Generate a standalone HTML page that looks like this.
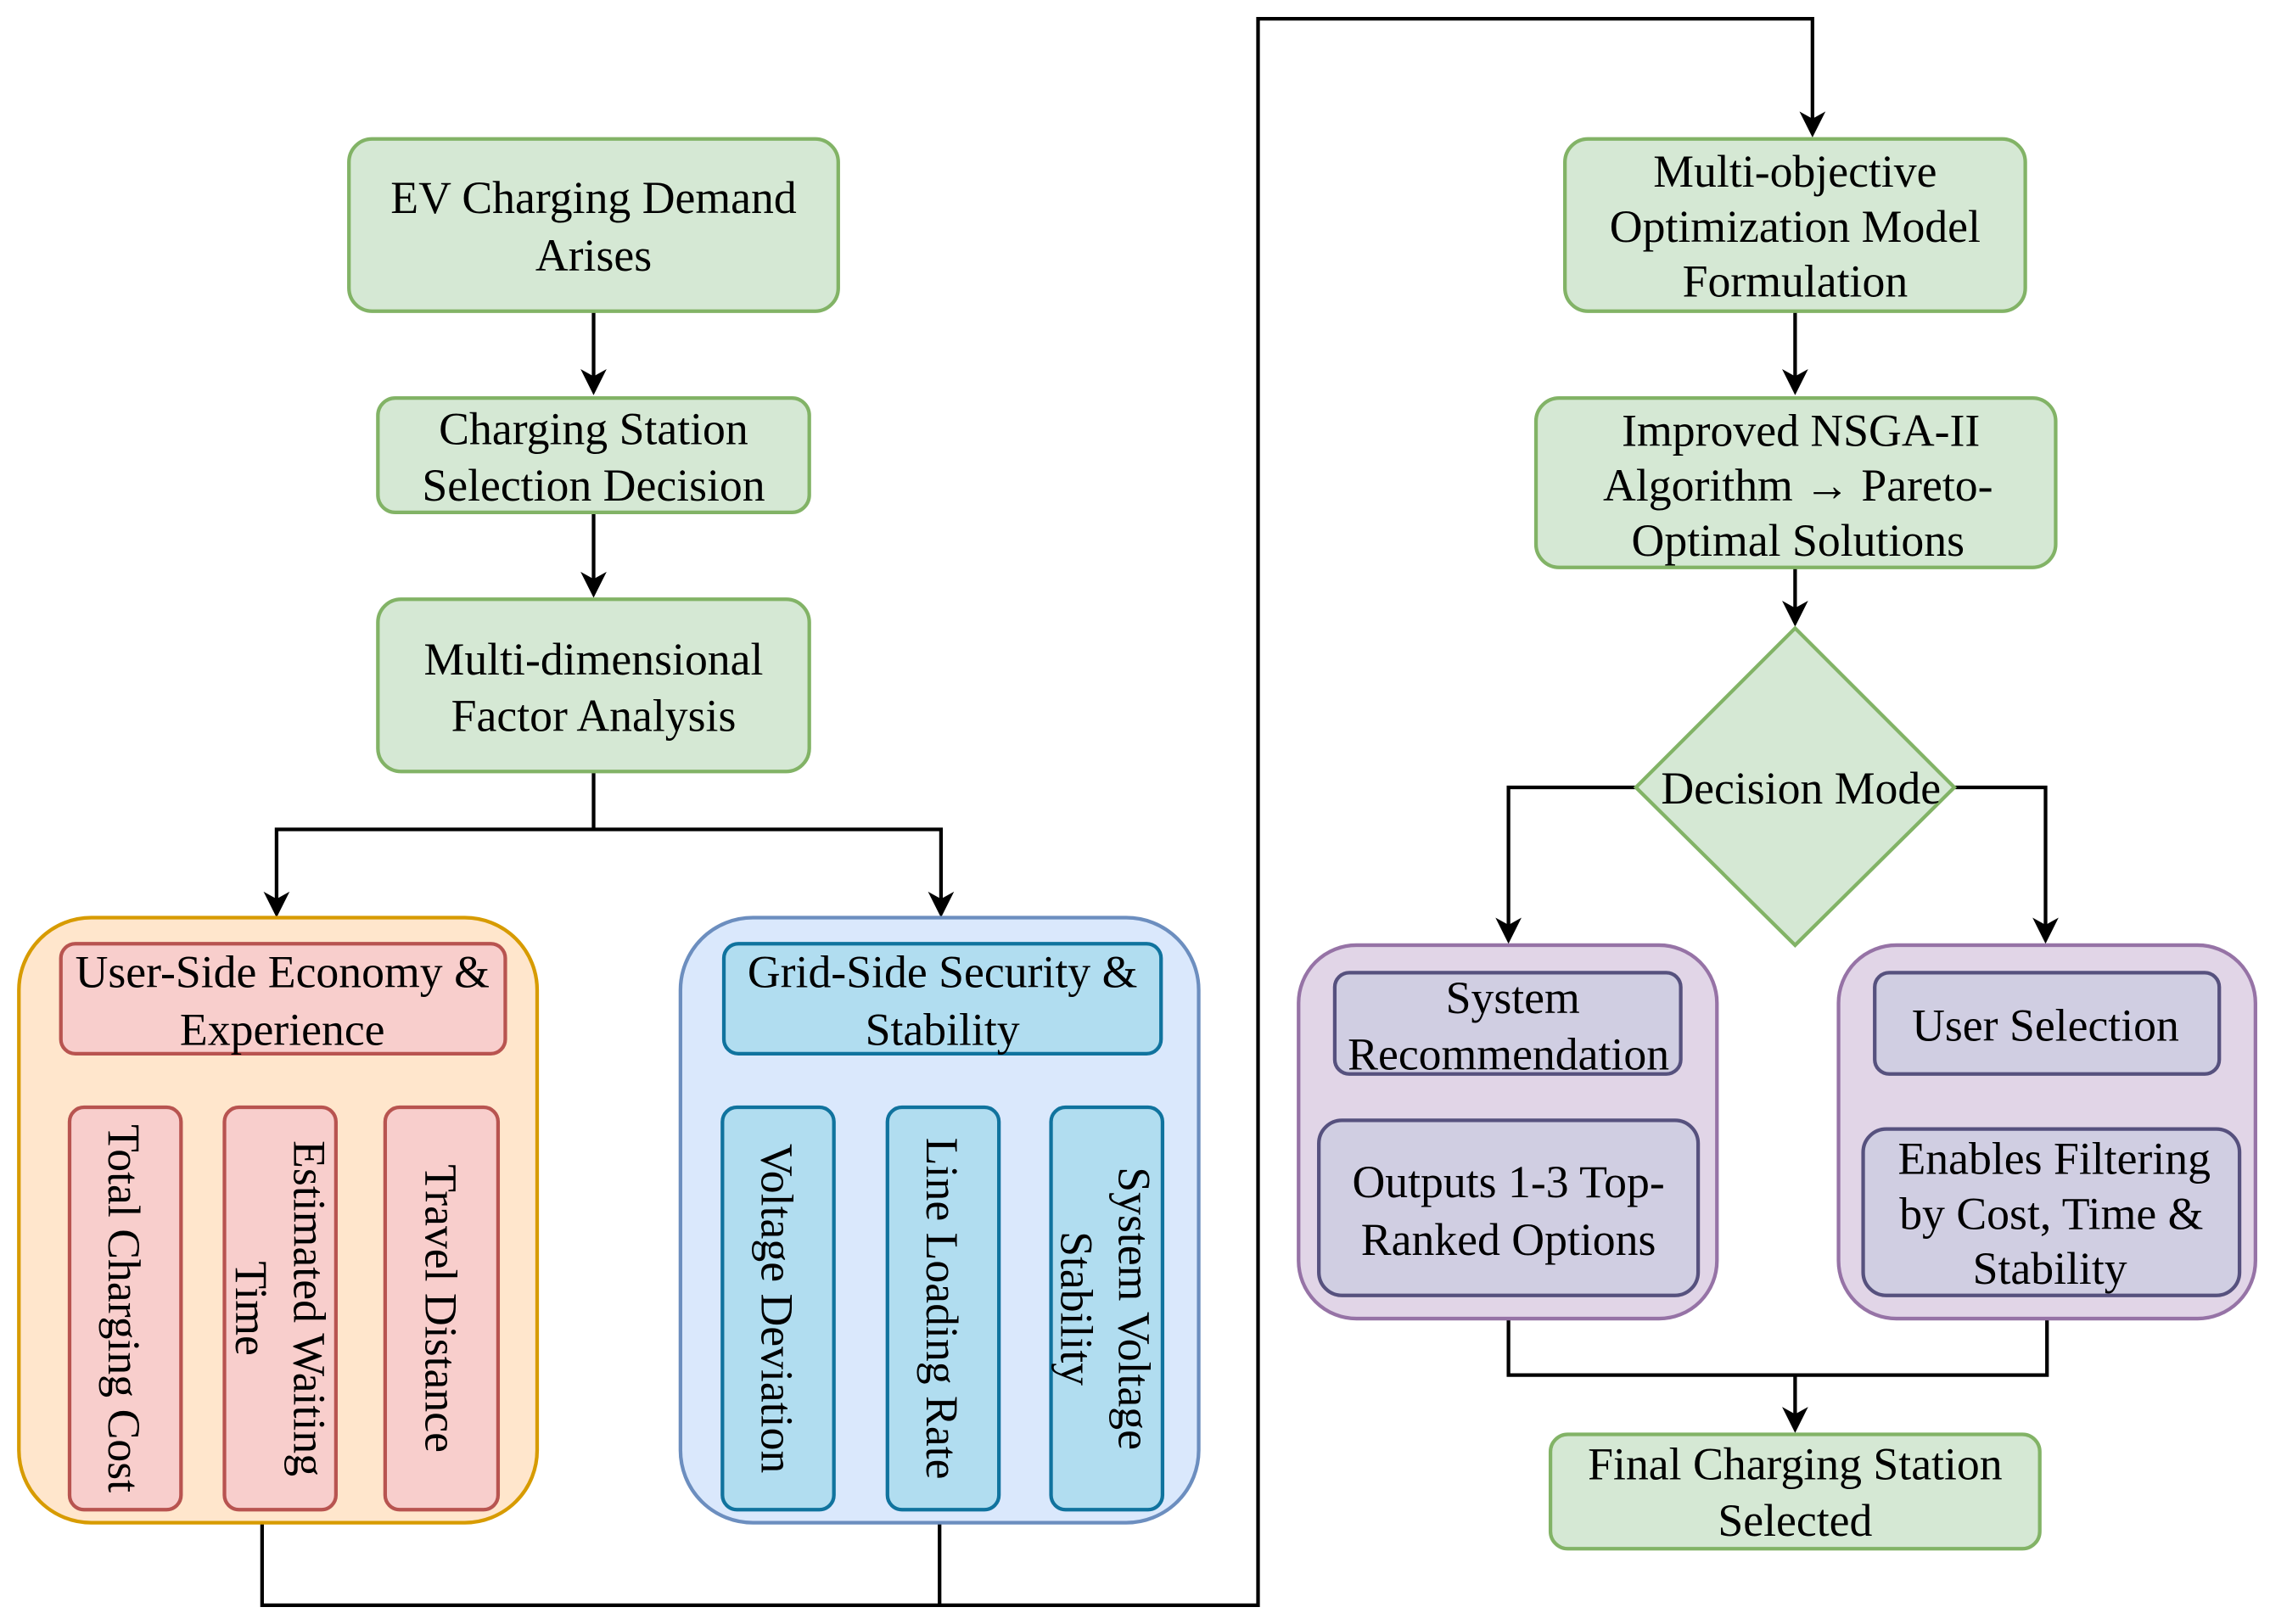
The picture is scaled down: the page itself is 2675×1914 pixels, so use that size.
<!DOCTYPE html>
<html><head><meta charset="utf-8"><style>html,body{margin:0;padding:0;background:#fff}svg{display:block}</style></head>
<body>
<svg width="2675" height="1914" viewBox="0 0 1568 1122" xmlns="http://www.w3.org/2000/svg" font-family="'Liberation Serif', serif" font-size="31.5" fill="#000">
<g stroke="#000" stroke-width="2.5" fill="none">
<path d="M410 215V262"/>
<path d="M410 354V402"/>
<path d="M410 533V573H191V622M410 573H650V622"/>
<path d="M181 1052V1109H869V13H1252V84M649 1052V1109"/>
<path d="M1240 215V262"/>
<path d="M1240 392V422"/>
<path d="M1130 544H1042V641M1350 544H1413V641"/>
<path d="M1042 911V950H1414V911M1240 950V979"/>
</g>
<g fill="#000">
<path d="M191 634l-9-18 9 5 9-5z"/>
<path d="M650 634l-9-18 9 5 9-5z"/>
<path d="M410 273l-9-18 9 5 9-5z"/>
<path d="M410 413l-9-18 9 5 9-5z"/>
<path d="M1252 95l-9-18 9 5 9-5z"/>
<path d="M1240 273l-9-18 9 5 9-5z"/>
<path d="M1240 433l-9-18 9 5 9-5z"/>
<path d="M1042 652l-9-18 9 5 9-5z"/>
<path d="M1413 652l-9-18 9 5 9-5z"/>
<path d="M1240 990l-9-18 9 5 9-5z"/>
</g>
<g stroke="#82b366" stroke-width="2.5" fill="#d5e8d4">
<rect x="241" y="96" width="338" height="119" rx="16"/>
<rect x="261" y="275" width="298" height="79" rx="12"/>
<rect x="261" y="414" width="298" height="119" rx="16"/>
<rect x="1081" y="96" width="318" height="119" rx="16"/>
<rect x="1061" y="275" width="359" height="117" rx="16"/>
<path d="M1240 434L1350 544L1240 653L1130 544Z"/>
<rect x="1071" y="991" width="338" height="79" rx="12"/>
</g>
<rect x="13" y="634" width="358" height="418" rx="50" fill="#ffe6cc" stroke="#d79b00" stroke-width="2.5"/>
<rect x="470" y="634" width="358" height="418" rx="50" fill="#dae8fc" stroke="#6c8ebf" stroke-width="2.5"/>
<g fill="#f8cecc" stroke="#b85450" stroke-width="2.5">
<rect x="42" y="652" width="307" height="76" rx="10"/>
<rect x="48" y="765" width="77" height="278" rx="10"/>
<rect x="155" y="765" width="77" height="278" rx="10"/>
<rect x="266" y="765" width="78" height="278" rx="10"/>
</g>
<g fill="#b1ddf0" stroke="#10739e" stroke-width="2.5">
<rect x="500" y="652" width="302" height="76" rx="10"/>
<rect x="499" y="765" width="77" height="278" rx="10"/>
<rect x="613" y="765" width="77" height="278" rx="10"/>
<rect x="726" y="765" width="77" height="278" rx="10"/>
</g>
<g fill="#e1d5e7" stroke="#9673a6" stroke-width="2.5">
<rect x="897" y="653" width="289" height="258" rx="40"/>
<rect x="1270" y="653" width="288" height="258" rx="40"/>
</g>
<g fill="#d0cee2" stroke="#56517e" stroke-width="2.5">
<rect x="922" y="672" width="239" height="70" rx="10"/>
<rect x="911" y="774" width="262" height="121" rx="16"/>
<rect x="1295" y="672" width="238" height="70" rx="10"/>
<rect x="1287" y="780" width="260" height="115" rx="16"/>
</g>
<g text-anchor="middle">
<text x="410" y="147">EV Charging Demand</text><text x="410" y="187">Arises</text>
<text x="410" y="307">Charging Station</text><text x="410" y="346">Selection Decision</text>
<text x="410" y="466">Multi-dimensional</text><text x="410" y="505">Factor Analysis</text>
<text x="195" y="682">User-Side Economy &amp;</text><text x="195" y="722">Experience</text>
<text x="651" y="682">Grid-Side Security &amp;</text><text x="651" y="722">Stability</text>
<text x="1240" y="129">Multi-objective</text><text x="1240" y="167">Optimization Model</text><text x="1240" y="205">Formulation</text>
<text x="1244" y="308">Improved NSGA-II</text><text x="1242" y="346">Algorithm → Pareto-</text><text x="1242" y="384">Optimal Solutions</text>
<text x="1244" y="555">Decision Mode</text>
<text x="1045" y="700">System</text><text x="1042" y="739">Recommendation</text>
<text x="1042" y="827">Outputs 1-3 Top-</text><text x="1042" y="867">Ranked Options</text>
<text x="1413" y="719">User Selection</text>
<text x="1419" y="811">Enables Filtering</text><text x="1417" y="849">by Cost, Time &amp;</text><text x="1416" y="887">Stability</text>
<text x="1240" y="1022">Final Charging Station</text><text x="1240" y="1061">Selected</text>
<text transform="translate(86 904) rotate(90)" y="11">Total Charging Cost</text>
<text transform="translate(194 904) rotate(90)"><tspan y="-9">Estimated Waiting</tspan><tspan x="0" y="31">Time</tspan></text>
<text transform="translate(305 904) rotate(90)" y="11">Travel Distance</text>
<text transform="translate(537 904) rotate(90)" y="11">Voltage Deviation</text>
<text transform="translate(651 904) rotate(90)" y="11">Line Loading Rate</text>
<text transform="translate(764 904) rotate(90)"><tspan y="-9">System Voltage</tspan><tspan x="0" y="31">Stability</tspan></text>
</g>
</svg>
</body></html>
